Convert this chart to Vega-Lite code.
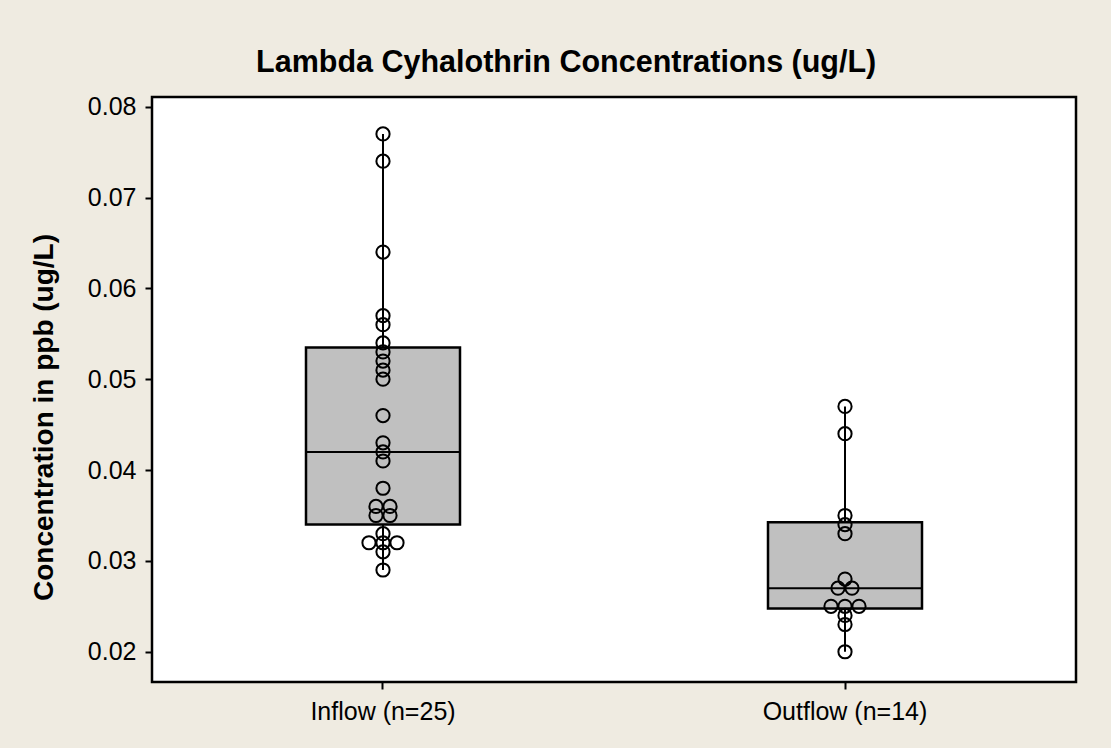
{
  "$schema": "https://vega.github.io/schema/vega-lite/v6.json",
  "width": 924,
  "height": 585,
  "autosize": {"type": "none"},
  "padding": {"left": 152, "top": 97, "right": 35, "bottom": 66},
  "background": "#EFEBE1",
  "title": {
    "text": "Lambda Cyhalothrin Concentrations (ug/L)",
    "font": "Liberation Sans",
    "fontSize": 30.5,
    "fontWeight": "bold",
    "color": "black",
    "frame": "bounds",
    "anchor": "middle",
    "offset": 16,
    "dx": 13
  },
  "datasets": {
    "points": [
      {"group": "Inflow (n=25)", "value": 0.077},
      {"group": "Inflow (n=25)", "value": 0.074},
      {"group": "Inflow (n=25)", "value": 0.064},
      {"group": "Inflow (n=25)", "value": 0.057},
      {"group": "Inflow (n=25)", "value": 0.056},
      {"group": "Inflow (n=25)", "value": 0.054},
      {"group": "Inflow (n=25)", "value": 0.053},
      {"group": "Inflow (n=25)", "value": 0.052},
      {"group": "Inflow (n=25)", "value": 0.051},
      {"group": "Inflow (n=25)", "value": 0.050},
      {"group": "Inflow (n=25)", "value": 0.046},
      {"group": "Inflow (n=25)", "value": 0.043},
      {"group": "Inflow (n=25)", "value": 0.042},
      {"group": "Inflow (n=25)", "value": 0.041},
      {"group": "Inflow (n=25)", "value": 0.038},
      {"group": "Inflow (n=25)", "value": 0.036},
      {"group": "Inflow (n=25)", "value": 0.036},
      {"group": "Inflow (n=25)", "value": 0.035},
      {"group": "Inflow (n=25)", "value": 0.035},
      {"group": "Inflow (n=25)", "value": 0.033},
      {"group": "Inflow (n=25)", "value": 0.032},
      {"group": "Inflow (n=25)", "value": 0.032},
      {"group": "Inflow (n=25)", "value": 0.032},
      {"group": "Inflow (n=25)", "value": 0.031},
      {"group": "Inflow (n=25)", "value": 0.029},
      {"group": "Outflow (n=14)", "value": 0.047},
      {"group": "Outflow (n=14)", "value": 0.044},
      {"group": "Outflow (n=14)", "value": 0.035},
      {"group": "Outflow (n=14)", "value": 0.034},
      {"group": "Outflow (n=14)", "value": 0.033},
      {"group": "Outflow (n=14)", "value": 0.028},
      {"group": "Outflow (n=14)", "value": 0.027},
      {"group": "Outflow (n=14)", "value": 0.027},
      {"group": "Outflow (n=14)", "value": 0.025},
      {"group": "Outflow (n=14)", "value": 0.025},
      {"group": "Outflow (n=14)", "value": 0.025},
      {"group": "Outflow (n=14)", "value": 0.024},
      {"group": "Outflow (n=14)", "value": 0.023},
      {"group": "Outflow (n=14)", "value": 0.020}
    ],
    "boxes": [
      {"group": "Inflow (n=25)", "min": 0.029, "q1": 0.034, "median": 0.042, "q3": 0.0535, "max": 0.077},
      {"group": "Outflow (n=14)", "min": 0.020, "q1": 0.02475, "median": 0.027, "q3": 0.03425, "max": 0.047}
    ]
  },
  "resolve": {"scale": {"x": "independent", "xOffset": "independent"}, "axis": {"x": "independent"}},
  "layer": [
    {
      "data": {"name": "boxes"},
      "encoding": {
        "x": {
          "field": "group",
          "type": "nominal",
          "sort": ["Inflow (n=25)", "Outflow (n=14)"],
          "scale": {"type": "band", "paddingInner": 0.66667, "paddingOuter": 0.33333},
          "axis": {"title": null, "labelAngle": 0, "labelPadding": 10}
        }
      },
      "layer": [
        {
          "mark": {"type": "rule", "color": "black", "strokeWidth": 2},
          "encoding": {
            "y": {
              "field": "min",
              "type": "quantitative",
              "scale": {"domain": [0.01667, 0.08107], "nice": false, "zero": false},
              "axis": {
                "values": [0.02, 0.03, 0.04, 0.05, 0.06, 0.07, 0.08],
                "format": ".2f",
                "title": "Concentration in ppb (ug/L)",
                "labelPadding": 9,
                "titlePadding": 29,
                "titleY": 320
              }
            },
            "y2": {"field": "max"}
          }
        },
        {
          "mark": {"type": "bar", "width": {"band": 1}, "fill": "#C0C0C0", "stroke": "black", "strokeWidth": 2.5},
          "encoding": {
            "y": {"field": "q1", "type": "quantitative"},
            "y2": {"field": "q3"}
          }
        },
        {
          "mark": {"type": "bar", "width": {"band": 1}, "fill": null, "stroke": "black", "strokeWidth": 2},
          "encoding": {
            "y": {"field": "median", "type": "quantitative"},
            "y2": {"field": "median"}
          }
        }
      ]
    },
    {
      "data": {"name": "points"},
      "transform": [
        {"window": [{"op": "row_number", "as": "k"}], "groupby": ["group", "value"]},
        {"joinaggregate": [{"op": "count", "as": "n"}], "groupby": ["group", "value"]},
        {"calculate": "datum.k - (datum.n + 1) / 2", "as": "off"}
      ],
      "mark": {"type": "point", "shape": "circle", "filled": false, "stroke": "black", "strokeWidth": 2, "size": 175, "opacity": 1},
      "encoding": {
        "x": {
          "field": "group",
          "type": "nominal",
          "sort": ["Inflow (n=25)", "Outflow (n=14)"],
          "scale": {"type": "band", "paddingInner": 0, "paddingOuter": 0},
          "axis": null
        },
        "xOffset": {"field": "off", "type": "quantitative", "scale": {"domain": [-1, 1], "range": [217, 245]}},
        "y": {"field": "value", "type": "quantitative"}
      }
    }
  ],
  "config": {
    "view": {"fill": "white", "stroke": "black", "strokeWidth": 2.5},
    "axis": {
      "domain": false,
      "grid": false,
      "ticks": true,
      "tickColor": "black",
      "tickWidth": 2,
      "tickSize": 7,
      "labelFont": "Liberation Sans",
      "labelFontSize": 25,
      "labelColor": "black",
      "titleFont": "Liberation Sans",
      "titleFontSize": 28,
      "titleFontWeight": "bold",
      "titleColor": "black"
    }
  }
}
